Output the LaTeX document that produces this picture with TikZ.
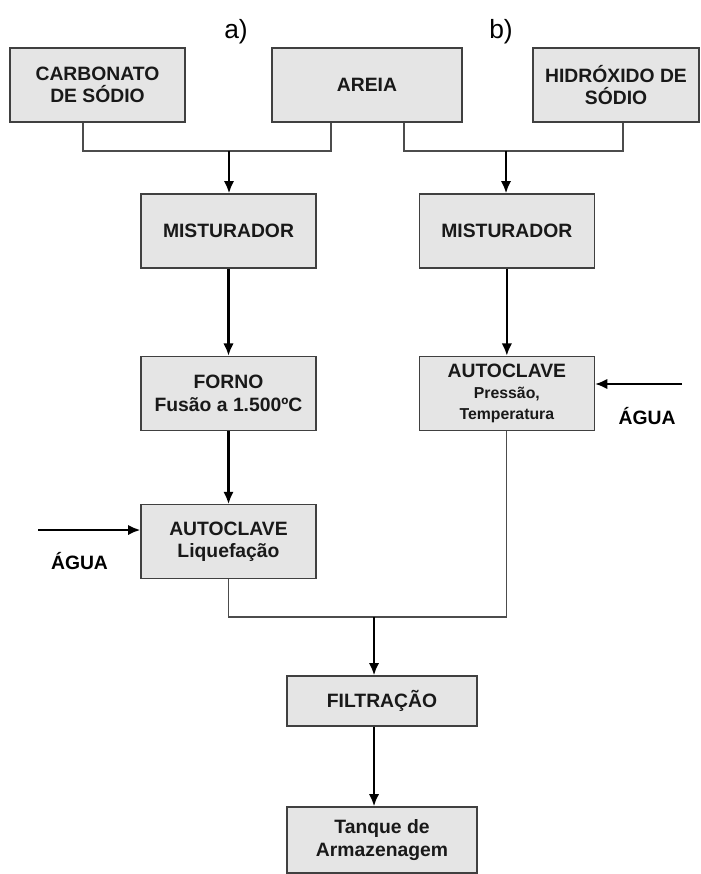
\documentclass[tikz,border=0pt]{standalone}
\usepackage{fontspec}
\setmainfont{Liberation Sans}
\usetikzlibrary{arrows.meta,positioning}

\newcommand{\smalltxt}{\fontsize{9}{10.5}\selectfont}

\begin{document}
\begin{tikzpicture}[x=0.02cm,y=-0.02cm,>={Latex[length=7pt,width=6pt]},
  proc node/.style={draw=black!75,line width=0.8pt,fill=black!10,align=center,inner sep=0pt,
    minimum width=3.5cm,minimum height=1.48cm,text=black!90,
    font=\bfseries\fontsize{11}{12.8}\selectfont},
  wide node/.style={proc node,minimum width=3.8cm},
  flow/.style={->,line width=1.3pt},
  link/.style={draw=black!70,line width=0.6pt}]

  \useasboundingbox (0,0) rectangle (700,874);

  % top row: the raw materials
  \node[proc node] (carb) at (97.5,85) {CARBONATO\\DE SÓDIO};
  \node[wide node] (areia) at (367,85) {AREIA};
  \node[proc node,minimum width=3.32cm] (hidr) at (616,85) {HIDRÓXIDO DE\\SÓDIO};

  \node[font=\fontsize{15}{18}\selectfont] (la) at (236,32) {a)};
  \node[font=\fontsize{15}{18}\selectfont] (lb) at (501,32) {b)};

  % route a) and route b)
  \node[proc node] (mixa) at (228.5,231) {MISTURADOR};
  \node[proc node] (mixb) [right=2.04cm of mixa] {MISTURADOR};
  \node[proc node] (forno) [below=1.74cm of mixa] {FORNO\\Fusão a 1.500ºC};
  \node[proc node] (autob) [below=1.74cm of mixb]
    {AUTOCLAVE\\[-1pt]{\smalltxt Pressão,}\\[-1pt]{\smalltxt Temperatura}};
  \node[proc node] (autoa) [below=1.46cm of forno] {AUTOCLAVE\\Liquefação};

  \node[font=\bfseries\fontsize{11}{13}\selectfont] (aguab) at (647,416) {ÁGUA};
  \node[font=\bfseries\fontsize{11}{13}\selectfont] (aguaa) at (79.5,561) {ÁGUA};

  % common end of both routes
  \node[wide node,minimum height=1cm] (filt) at (382,701) {FILTRAÇÃO};
  \node[wide node,minimum height=1.32cm] (tanque) at (382,840) {Tanque de\\Armazenagem};

  \coordinate (ja) at (229,151);
  \coordinate (jb) at (506,151);
  \coordinate (jf) at (374,617);
  \coordinate (wb) at (682,384);
  \coordinate (wa) at (38,530);

  \draw[link] ([xshift=-0.29cm]carb.south) |- (ja) -| ([xshift=-0.72cm]areia.south);
  \draw[link] ([xshift=0.74cm]areia.south) |- (jb) -| ([xshift=0.14cm]hidr.south);
  \draw[link] (autoa.south) |- (jf) -| (autob.south);

  \draw[flow] (ja) -- (ja |- mixa.north);
  \draw[flow] (jb) -- (jb |- mixb.north);
  \draw[flow] (mixa) -- (forno);
  \draw[flow] (forno) -- (autoa);
  \draw[flow] (mixb) -- (autob);
  \draw[flow] (wb) -- (wb -| autob.east);
  \draw[flow] (wa) -- (wa -| autoa.west);
  \draw[flow] (jf) -- (jf |- filt.north);
  \draw[flow] (jf |- filt.south) -- (jf |- tanque.north);
\end{tikzpicture}
\end{document}
